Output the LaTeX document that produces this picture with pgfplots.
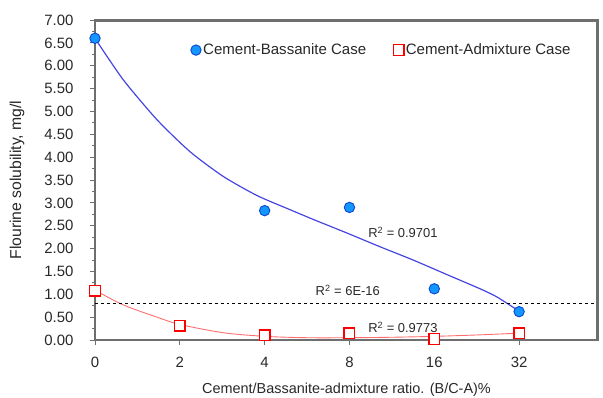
\documentclass[border=0pt]{standalone}
\usepackage{fontspec}
\setmainfont{Liberation Sans}
\usepackage{pgfplots}
\pgfplotsset{compat=1.18}
\definecolor{bfill}{RGB}{20,150,255}
\definecolor{bdraw}{RGB}{10,70,210}
\definecolor{bline}{RGB}{70,70,225}
\definecolor{rline}{RGB}{255,110,110}
\definecolor{txt}{RGB}{40,40,40}
\definecolor{axgray}{RGB}{110,110,110}
\begin{document}
\begin{tikzpicture}
\begin{axis}[
  name=main,
  at={(0,0)}, anchor=south west,
  scale only axis, width=503bp, height=320bp,
  xmin=0, xmax=5.93, ymin=0, ymax=7,
  xtick={0,1,2,3,4,5}, xticklabels={0,2,4,8,16,32},
  ytick={0,0.5,1,1.5,2,2.5,3,3.5,4,4.5,5,5.5,6,6.5,7},
  minor y tick num=1,
  /pgf/number format/assume math mode=true,
  yticklabel style={/pgf/number format/.cd, fixed, fixed zerofill, precision=2, /tikz/.cd, xshift=-13bp},
  xticklabel style={yshift=-9bp},
  ticklabel style={font=\fontsize{15}{17}\selectfont, text=txt},
  axis line style={draw=axgray, line width=1.2pt},
  every tick/.style={draw=axgray, line width=0.9pt},
  tick align=outside,
  major tick length=5bp, minor tick length=3bp,
  xtick pos=bottom, ytick pos=left,
  xlabel={Cement/Bassanite-admixture ratio. (B/C-A)\%},
  ylabel={Flourine solubility, mg/l},
  xlabel style={font=\fontsize{14.5}{17}\selectfont, text=txt, at={(0.5,0)}, anchor=north, yshift=-40bp},
  ylabel style={font=\fontsize{15.8}{18}\selectfont, text=txt, at={(0,0.5)}, anchor=south, yshift=67bp},
  legend columns=2,
  legend style={draw=none, fill=none, at={(0.19,0.906)}, anchor=west,
    font=\fontsize{15.1}{18}\selectfont, text=txt,
    /tikz/every even column/.append style={column sep=25bp},
    inner sep=0pt},
  legend image code/.code={\draw[#1] plot coordinates {(0bp,0bp)};},
  clip=false,
]
% trend lines
\addplot[bline, line width=1.2pt, smooth, tension=0.4, forget plot] coordinates {
(0,6.60) (0.33,5.70) (0.73,4.82) (1.12,4.12) (1.51,3.58) (1.91,3.16)
(2.30,2.85) (2.57,2.64) (2.97,2.34) (3.36,2.04) (3.75,1.75) (4.15,1.43)
(4.54,1.12) (4.74,0.94) (5.00,0.63)};
\addplot[rline, line width=0.9pt, smooth, forget plot] coordinates {
(0,1.09) (0.33,0.77) (0.73,0.50) (1.0,0.34) (1.51,0.16) (2.0,0.08)
(2.5,0.05) (3.0,0.05) (3.5,0.06) (4.0,0.08) (4.5,0.11) (5.0,0.15)};
\addplot[black, dashed, line width=1.1pt, forget plot] coordinates {(0,0.79) (5.93,0.79)};
% data
\addplot[only marks, mark=*, mark size=5.2bp, mark options={fill=bfill, draw=bdraw, line width=0.9pt}]
  coordinates {(0,6.60) (2,2.83) (3,2.90) (4,1.12) (5,0.62)};
\addlegendentry{Cement-Bassanite Case}
\addplot[only marks, mark=square*, mark size=5.3bp, mark options={fill=white, draw=red, line width=1.4pt}]
  coordinates {(0,1.08) (1,0.31) (2,0.10) (3,0.15) (4,0.02) (5,0.15)};
\addlegendentry{Cement-Admixture Case}
% R^2 labels
\node[anchor=west, font=\fontsize{13}{15}\selectfont, text=txt] at (axis cs:3.18,2.36) {R\textsuperscript{2} = 0.9701};
\node[anchor=west, font=\fontsize{13}{15}\selectfont, text=txt] at (axis cs:2.56,1.09) {R\textsuperscript{2} = 6E-16};
\node[anchor=west, font=\fontsize{13}{15}\selectfont, text=txt] at (axis cs:3.18,0.28) {R\textsuperscript{2} = 0.9773};
\end{axis}
\draw[axgray, line width=1.5pt] ([yshift=-0.8pt]main.north west) -- ([xshift=-0.8pt,yshift=-0.8pt]main.north east) -- ([xshift=-0.8pt]main.south east);
\pgfresetboundingbox
\path (-95bp,-58bp) rectangle (508bp,340bp);
\end{tikzpicture}
\end{document}
